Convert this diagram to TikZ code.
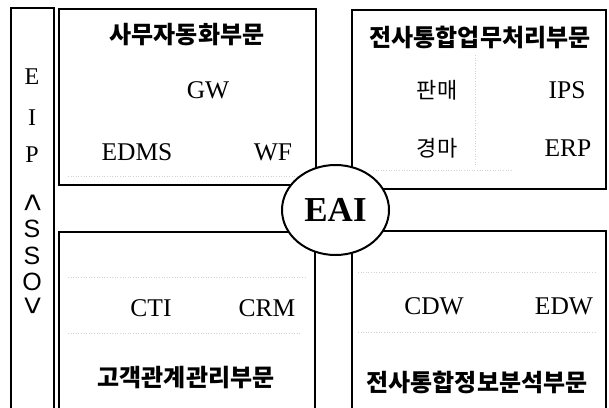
\documentclass[tikz,border=0pt]{standalone}
\usepackage{fontspec}
\setmainfont{Liberation Serif}
\newfontfamily\krfont{Noto Sans CJK KR}
\newfontfamily\ssofont{Liberation Sans}
\usepackage{tikz}
\usetikzlibrary{shapes}
\tikzset{
	part/.style   = {draw, line width=2pt, rectangle, inner sep=0pt},
	rail/.style   = {draw, line width=1.5pt, rectangle, inner sep=0pt},
	hub/.style    = {draw, line width=2pt, ellipse, fill=white, inner sep=0pt,
		minimum width=107pt, minimum height=90pt},
	head/.style   = {font=\krfont\bfseries\fontsize{24}{24}\selectfont}, % part titles
	sys/.style    = {font=\fontsize{25.5}{26}\selectfont}, % system names
	ksys/.style   = {font=\krfont\fontsize{22}{22}\selectfont},
	letter/.style = {font=\fontsize{24}{24}\selectfont},
	sso/.style    = {font=\ssofont\fontsize{25}{25}\selectfont},
	bracket/.style = {font=\ssofont\fontsize{32}{32}\selectfont},
	scan/.style   = {gray!35, line width=0.6pt, dotted}
}
\newcommand{\hubtext}{\fontsize{35}{35}\selectfont\bfseries EAI}

\begin{document}
\begin{tikzpicture}[x=1pt, y=-1pt]
\clip (0,0) rectangle (609,407);
\draw
% Drawing the rail and the four parts
node at (32.5,214)[rail, minimum width=43pt, minimum height=412pt] (eip) {}
node at (187.5,97)[part, minimum width=257pt, minimum height=176pt] (oa) {}
node at (479,99.5)[part, minimum width=254pt, minimum height=179pt] (bp) {}
node at (187,326)[part, minimum width=256pt, minimum height=188pt] (crm) {}
node at (479,325.5)[part, minimum width=254pt, minimum height=189pt] (bi) {};

% faint lines of the scan
\draw[scan] (68,176) -- (305,176);
\draw[scan] (475,55) -- (475,165);
\draw[scan] (373,170) -- (513,170);
\draw[scan] (68,277) -- (305,277);
\draw[scan] (68,333) -- (300,333);
\draw[scan] (358,272) -- (595,272);
\draw[scan] (358,332) -- (595,332);

\draw
% EIP <SSO> down the rail
node at (32,77)[letter] (e) {E}
node at (32,118)[letter] (i) {I}
node at (32,155)[letter] (p) {P}
node at (32,203)[bracket] (lt) {\rotatebox{-90}{<}}
node at (32,229)[sso] (s1) {S}
node at (32,256)[sso] (s2) {S}
node at (32,282)[sso] (o) {O}
node at (32,306)[bracket] (gt) {\rotatebox{-90}{>}}
% office automation
node at (187,35)[head] (oahead) {사무자동화부문}
node at (208,90)[sys] (gw) {GW}
node at (137,152)[sys] (edms) {EDMS}
node at (273,152)[sys] (wf) {WF}
% business processing
node at (480,37)[head] (bphead) {전사통합업무처리부문}
node at (437,90)[ksys] (sales) {판매}
node at (567,90)[sys] (ips) {IPS}
node at (437,148)[ksys] (race) {경마}
node at (568,148)[sys] (erp) {ERP}
% customer relations
node at (151,308)[sys] (cti) {CTI}
node at (267,308)[sys] (crmsys) {CRM}
node at (186,378)[head] (crmhead) {고객관계관리부문}
% information analysis
node at (434,306)[sys] (cdw) {CDW}
node at (564,306)[sys] (edw) {EDW}
node at (477,382)[head] (bihead) {전사통합정보분석부문};

\draw
node at (335.5,210)[hub] (eai) {\hubtext};
\end{tikzpicture}
\end{document}
